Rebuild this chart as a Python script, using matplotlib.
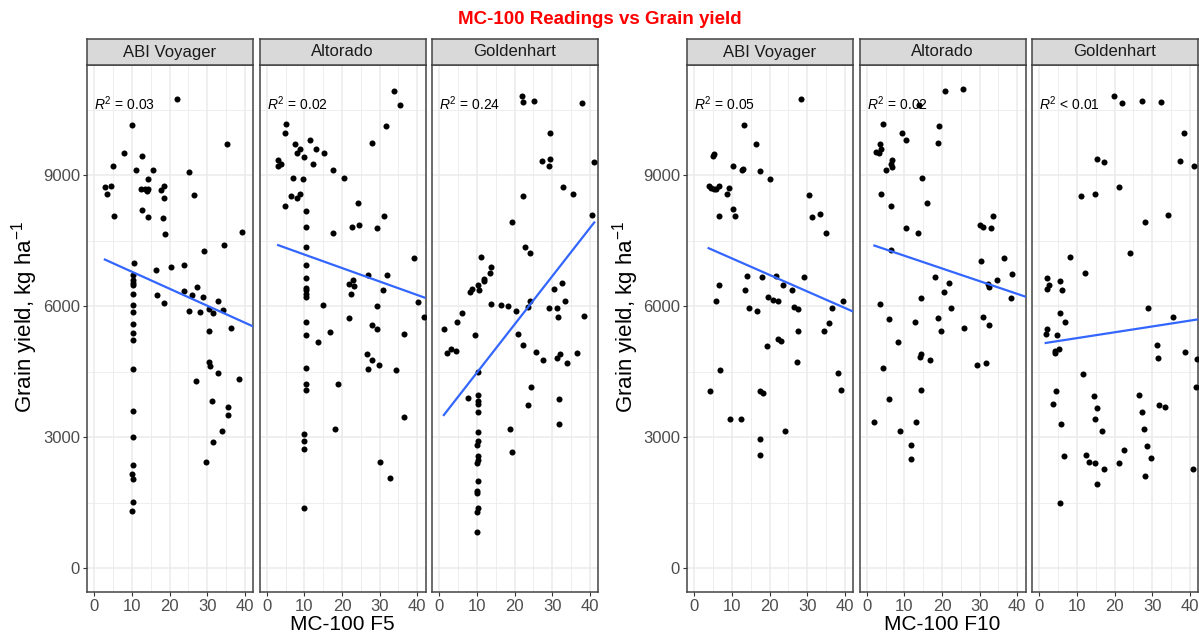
##################################################################################
### PURPOSE: MC-100 readings (F5 / F10) vs grain yield, faceted by variety
##################################################################################
import numpy as np
import matplotlib
matplotlib.use('Agg')
import matplotlib.pyplot as plt

plt.rcParams['font.family'] = ['Liberation Sans', 'DejaVu Sans']
plt.rcParams['mathtext.fontset'] = 'custom'
plt.rcParams['mathtext.rm'] = 'Liberation Sans'
plt.rcParams['mathtext.it'] = 'Liberation Sans:italic'


##################################################################################
### DATA
##################################################################################
varieties = ['ABI Voyager', 'Altorado', 'Goldenhart']
sensors = ['MC-100 F5', 'MC-100 F10']

# ---- MC-100 F5 ----
f5_voyager_x = [21.9, 9.9, 35.2, 7.8, 12.8, 4.9, 11.1, 15.6, 25.2, 14.3, 2.8, 4.4, 3.3, 12.3, 13.4, 14.4,
                13.9, 17.6, 18.6, 18.6, 26.6, 12.8, 14.3, 5.1, 18.3, 18.8, 39.3, 34.5, 29.3, 10.5, 20.5,
                23.8, 16.4, 10.2, 10.2, 10.2, 10.2, 10.2, 16.6, 18.6, 23.8, 25.9, 27.3, 28.9, 32.8, 10.2,
                10.2, 25.1, 28.0, 30.5, 31.6, 34.3, 10.2, 10.2, 30.6, 36.4,
                10.2, 30.5, 30.8, 10.2, 32.8, 27.0, 38.6, 31.4, 10.2, 35.6, 35.6, 33.9, 10.2, 31.6, 29.8,
                10.2, 10.0, 10.2, 10.2, 10.0]
f5_voyager_y = [10740, 10150, 9710, 9520, 9430, 9210, 9130, 9110, 9080, 8910, 8720, 8760, 8570, 8690, 8690, 8690,
                8650, 8670, 8760, 8480, 8550, 8200, 8050, 8070, 8030, 7660, 7710, 7400, 7270, 7000, 6910,
                6950, 6820, 6710, 6600, 6540, 6480, 6280, 6260, 6070, 6360, 6250, 6430, 6210, 6110, 6030,
                5860, 5890, 5870, 5940, 5840, 5910, 5600, 5390, 5440, 5510,
                5230, 4720, 4640, 4570, 4480, 4290, 4330, 3820, 3600, 3700, 3510, 3150, 3000, 2890, 2430,
                2370, 2160, 2050, 1510, 1320]

f5_altorado_x = [33.9, 35.4, 5.2, 4.7, 31.7, 27.9, 7.4, 8.8, 8.1, 11.5, 13.2, 15.2, 10.0, 3.0, 3.8, 3.0,
                 12.4, 17.7, 20.6, 7.0, 9.7, 6.5, 8.0, 8.9, 4.8, 24.2, 10.3, 31.2, 10.3, 22.7, 24.5, 29.2,
                 17.7, 10.3, 39.1, 10.3, 26.9, 31.9, 22.9, 10.3, 10.3, 10.3, 10.3, 10.3, 21.9, 23.3, 22.5,
                 30.9, 40.3, 15.0, 29.4, 41.9, 10.3, 21.9, 27.9, 29.4, 16.7, 10.3, 36.4,
                 13.7, 26.6, 27.9, 29.9, 10.3, 26.9, 34.4, 10.3, 10.3, 18.9, 36.6, 18.2, 10.0, 10.0, 10.0,
                 30.2, 32.8, 10.0]
f5_altorado_y = [10940, 10600, 10170, 9970, 10130, 9740, 9720, 9600, 9520, 9800, 9600, 9500, 9410, 9350, 9250, 9210,
                 9250, 9120, 8940, 8940, 8920, 8530, 8480, 8580, 8300, 8360, 8190, 8070, 7810, 7810, 7860, 7800,
                 7670, 7350, 7110, 6940, 6710, 6720, 6610, 6640, 6420, 6370, 6270, 6210, 6510, 6460, 6270,
                 6370, 6100, 6030, 6010, 5760, 5650, 5740, 5560, 5470, 5410, 5340, 5370,
                 5190, 4910, 4780, 4650, 4590, 4570, 4550, 4220, 4090, 4220, 3470, 3190, 3080, 2910, 2730,
                 2430, 2070, 1380]

f5_golden_x = [22.0, 22.2, 25.2, 37.9, 29.5, 27.4, 29.5, 29.2, 41.2, 32.9, 35.6, 22.2, 40.6, 19.3, 22.7, 24.0,
               11.2, 13.7, 13.5, 11.8, 12.0, 10.3, 8.1, 8.8, 10.5, 32.7, 30.4, 13.7, 16.3, 18.2, 24.2, 20.5,
               23.6, 33.4, 29.2, 31.2, 31.5, 38.6, 6.0, 4.8, 1.2, 9.4, 21.0,
               2.0, 3.0, 4.5, 22.2, 25.7, 27.5, 31.4, 32.0, 33.9, 36.7, 10.3, 24.5, 7.5, 10.3, 10.3, 10.3,
               10.3, 23.7, 31.7, 31.9, 18.7, 10.3, 10.3, 10.1, 10.3, 10.1, 10.3, 19.2, 10.3, 10.1, 10.1,
               10.3, 10.1, 10.0]
f5_golden_y = [10810, 10670, 10710, 10650, 9970, 9330, 9380, 9220, 9310, 8730, 8560, 8530, 8080, 7930, 7350, 7220,
               7130, 6900, 6760, 6630, 6590, 6490, 6330, 6400, 6380, 6540, 6400, 6060, 6030, 6010, 6120, 5900,
               5990, 6120, 5960, 5960, 5750, 5770, 5840, 5640, 5470, 5340, 5370,
               4940, 5020, 4970, 5110, 4960, 4780, 4810, 4910, 4700, 4940, 4490, 4160, 3900, 3960, 3840, 3760,
               3580, 3730, 3880, 3310, 3190, 3120, 2920, 2820, 2580, 2420, 2480, 2660, 2010, 1770, 1720,
               1390, 1290, 840]

# ---- MC-100 F10 ----
f10_voyager_x = [28.4, 13.2, 16.5, 5.2, 5.0, 10.3, 12.7, 13.0, 17.4, 20.0, 3.8, 4.5, 5.2, 5.8, 6.5, 9.3,
                 8.6, 30.4, 10.2, 10.8, 6.5, 31.2, 33.5, 35.0, 6.5, 14.0, 18.0, 21.8, 29.2, 13.5, 23.5, 26.0,
                 5.8, 19.5, 20.8, 22.2, 39.6, 14.5, 16.8, 26.5, 27.7, 36.5, 35.7, 27.7, 34.4,
                 19.2, 22.2, 23.0, 27.2, 6.8, 38.1, 4.3, 17.5, 18.2, 39.1, 9.6, 12.3, 24.0, 17.5, 17.5]
f10_voyager_y = [10750, 10160, 9720, 9490, 9440, 9220, 9120, 9140, 9090, 8920, 8760, 8710, 8690, 8690, 8760, 8700,
                 8560, 8550, 8220, 8070, 8060, 8040, 8110, 7670, 6480, 6700, 6680, 6700, 6660, 6380, 6480, 6380,
                 6120, 6210, 6140, 6120, 6120, 5960, 5900, 5990, 5930, 5960, 5620, 5440, 5440,
                 5080, 5260, 5210, 4720, 4550, 4480, 4060, 4070, 4010, 4090, 3420, 3420, 3150, 2950, 2590]

f10_altorado_x = [20.9, 25.7, 14.0, 4.2, 19.3, 9.3, 10.3, 3.5, 3.8, 2.5, 3.2, 19.0, 6.7, 6.5, 6.7, 5.2,
                  14.7, 3.7, 6.3, 15.9, 33.6, 30.1, 30.9, 33.1, 10.3, 13.7, 6.5, 36.4, 30.4, 38.6, 18.0, 34.7,
                  21.8, 32.3, 32.6, 20.6, 14.3, 38.3, 3.5, 22.5, 5.9, 12.7, 19.0, 31.0, 32.4, 25.9, 19.7,
                  8.4, 14.5, 14.2, 16.7, 4.3, 29.4, 31.7, 14.5, 5.8, 2.0, 13.2, 8.8, 11.8, 11.8]
f10_altorado_y = [10940, 10970, 10610, 10170, 10130, 9970, 9800, 9720, 9610, 9530, 9500, 9740, 9350, 9250, 9200, 9120,
                  8940, 8570, 8300, 8370, 8070, 7860, 7820, 7800, 7800, 7670, 7290, 7110, 7040, 6740, 6680, 6610,
                  6530, 6510, 6450, 6330, 6180, 6200, 6060, 5960, 5700, 5640, 5730, 5760, 5560, 5510, 5430,
                  5190, 4900, 4840, 4780, 4580, 4650, 4710, 4090, 3870, 3360, 3340, 3150, 2820, 2500]

f10_golden_x = [19.8, 22.1, 27.3, 32.3, 38.4, 15.3, 17.3, 37.4, 41.2, 21.1, 11.1, 14.8, 34.2, 28.0, 24.1, 8.1,
                12.1, 2.1, 2.7, 2.1, 5.6, 6.1, 29.0, 35.5, 5.4, 6.9, 2.1, 1.7, 4.7,
                4.3, 4.3, 5.1, 31.3, 31.5, 38.8, 42.0, 11.6, 4.4, 3.6, 14.6, 15.3, 14.9, 26.5, 27.3, 31.9,
                33.5, 41.7, 5.7, 16.6, 27.8, 6.6, 12.4, 13.2, 14.9, 17.2, 21.3, 22.6, 28.6, 29.6, 28.1,
                15.3, 41.0, 5.4]
f10_golden_y = [10820, 10650, 10710, 10670, 9970, 9380, 9310, 9330, 9220, 8730, 8530, 8560, 8080, 7930, 7220, 7130,
                6760, 6640, 6480, 6400, 6590, 6370, 5960, 5750, 5840, 5640, 5470, 5370, 5340,
                4970, 4940, 5020, 5110, 4810, 4950, 4790, 4440, 4070, 3770, 3940, 3680, 3420, 3960, 3570, 3750,
                3700, 4140, 3310, 3150, 3190, 2560, 2600, 2430, 2410, 2280, 2410, 2720, 2800, 2520, 2110,
                1940, 2280, 1490]

# fitted lines (end points) and R^2 labels, same panel order
fit_x = [[2.8, 42.2], [3.0, 41.9], [1.2, 41.2], [3.8, 42.2], [2.0, 42.2], [1.7, 42.2]]
fit_y = [[7070, 5540], [7400, 6200], [3510, 7920], [7330, 5880], [7390, 6220], [5160, 5700]]
r2_labels = [r'$R^2$ = 0.03', r'$R^2$ = 0.02', r'$R^2$ = 0.24',
             r'$R^2$ = 0.05', r'$R^2$ = 0.02', r'$R^2$ < 0.01']

panels = [(f5_voyager_x, f5_voyager_y), (f5_altorado_x, f5_altorado_y), (f5_golden_x, f5_golden_y),
          (f10_voyager_x, f10_voyager_y), (f10_altorado_x, f10_altorado_y), (f10_golden_x, f10_golden_y)]


##################################################################################
### PLOTTING
##################################################################################
W, H = 1199, 636
fig = plt.figure(figsize=(W / 100, H / 100), dpi=100)

def px_axes(left, top, width, height):
    return fig.add_axes([left / W, 1 - (top + height) / H, width / W, height / H])

group_lefts = [[87, 259.5, 432], [687, 859.5, 1032]]
pw, ptop, ph = 166, 65, 527
strip_top, strip_h = 39, 26

for g, sensor in enumerate(sensors):
    for k, variety in enumerate(varieties):
        i = g * 3 + k
        left = group_lefts[g][k]
        ax = px_axes(left, ptop, pw, ph)
        x, y = panels[i]

        ax.set_xlim(-1.95, 42.2)
        ax.set_ylim(-543, 11525)
        ax.set_xticks([0, 10, 20, 30, 40])
        ax.set_xticks([5, 15, 25, 35], minor=True)
        ax.set_yticks([0, 3000, 6000, 9000])
        ax.set_yticks([1500, 4500, 7500, 10500], minor=True)
        ax.grid(which='major', color='#EBEBEB', lw=1.1)
        ax.grid(which='minor', color='#EBEBEB', lw=0.6)
        ax.set_axisbelow(True)
        for s in ax.spines.values():
            s.set_color('#444444')
            s.set_linewidth(1.1)
        ax.tick_params(which='major', direction='out', length=3, color='#333333',
                       labelcolor='#4D4D4D', labelsize=12, pad=2)
        ax.tick_params(which='minor', length=0)
        if k > 0:
            ax.tick_params(axis='y', left=False, labelleft=False)

        ax.scatter(x, y, s=19, color='black', lw=0, zorder=3)
        ax.plot(fit_x[i], fit_y[i], color='#3366FF', lw=1.6, zorder=4)
        ax.text(0.0, 10640, r2_labels[i], fontsize=10, ha='left', va='center', color='black')

        # facet strip
        st = px_axes(left, strip_top, pw, strip_h)
        st.set_facecolor('#D9D9D9')
        st.set_xticks([])
        st.set_yticks([])
        for s in st.spines.values():
            s.set_color('#444444')
            s.set_linewidth(1.1)
        st.text(0.5, 0.5, variety, ha='center', va='center', fontsize=12, color='#1A1A1A',
                transform=st.transAxes)

    # axis titles for the group
    gx = (group_lefts[g][0] + group_lefts[g][2] + pw) / 2
    fig.text(gx / W, 1 - 625 / H, sensor, ha='center', va='center', fontsize=15)
    ylx = 25 if g == 0 else 626
    fig.text(ylx / W, 1 - 317 / H, r'Grain yield, kg ha$^{-1}$', ha='center', va='center',
             rotation=90, fontsize=16)

fig.text(0.5, 1 - 20 / H, 'MC-100 Readings vs Grain yield', ha='center', va='center',
         color='#FF0000', fontsize=13.5, fontweight='bold')

fig.savefig('out.png', dpi=100)
